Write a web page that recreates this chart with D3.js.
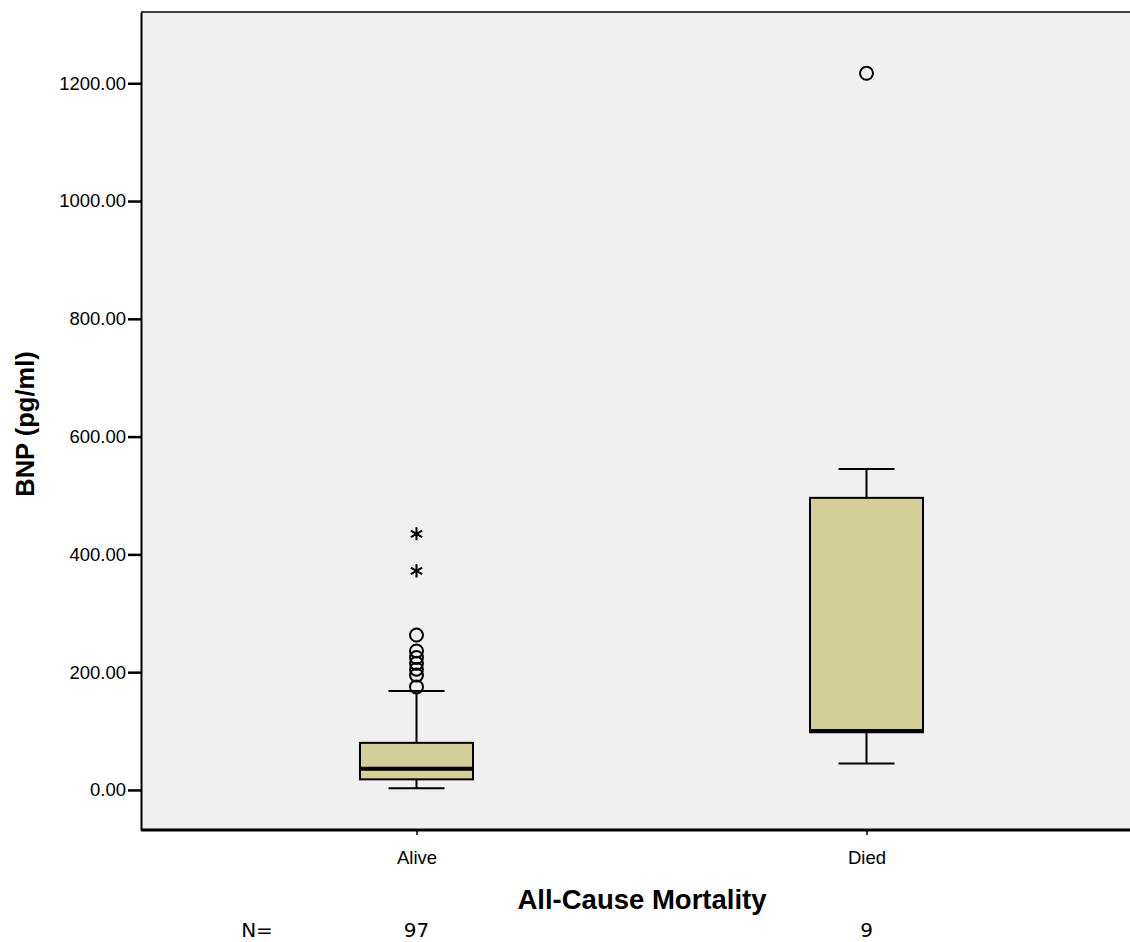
<!DOCTYPE html>
<html>
<head>
<meta charset="utf-8">
<script src="https://cdn.jsdelivr.net/npm/d3@7"></script>
<style>
  body { margin: 0; background: #fff; }
  svg { display: block; }
</style>
</head>
<body>
<svg id="chart" width="1130" height="942"></svg>
<script>
// Summary statistics of BNP by all-cause mortality group
const categories = ["Alive", "Died"];
const counts = [97, 9];
const whiskerLow = [3, 45];
const q1 = [18, 98];
const median = [36, 100];
const q3 = [80, 496];
const whiskerHigh = [168, 545];
// mild outliers (circles) and extreme values (asterisks)
const outliers = [[175, 195, 205, 215, 225, 236, 263], [1217]];
const extremes = [[372, 435], []];
const yTicks = [0, 200, 400, 600, 800, 1000, 1200];

const svg = d3.select("#chart");
const plot = { left: 141, top: 12, right: 1130, bottom: 830 };

const y = d3.scaleLinear().domain([-68, 1321]).range([plot.bottom, plot.top]);
const x = d3.scalePoint().domain(categories).range([416.5, 866.5]);
const boxW = 113, capW = 56;

// plot background
svg.append("rect")
  .attr("x", plot.left).attr("y", plot.top)
  .attr("width", plot.right - plot.left).attr("height", plot.bottom - plot.top)
  .attr("fill", "#f0f0f0");
svg.append("line")
  .attr("x1", plot.left).attr("x2", plot.right)
  .attr("y1", plot.top).attr("y2", plot.top)
  .attr("stroke", "#000").attr("stroke-width", 1.5);

// y axis
const yAxis = svg.append("g")
  .attr("transform", `translate(${plot.left},0)`)
  .call(d3.axisLeft(y).tickValues(yTicks).tickFormat(d3.format(".2f")).tickSizeInner(13).tickSizeOuter(0).tickPadding(2));
yAxis.select(".domain").attr("stroke-width", 2);
yAxis.selectAll(".tick line").attr("stroke-width", 2.5);
yAxis.selectAll("text").attr("font-family", "Liberation Sans, Arial, sans-serif").attr("font-size", 18.5).attr("fill", "#000");

// x axis
const xAxis = svg.append("g")
  .attr("transform", `translate(0,${plot.bottom})`)
  .call(d3.axisBottom(x).tickSizeInner(5).tickSizeOuter(0).tickPadding(16));
xAxis.select(".domain").attr("d", `M${plot.left},0H${plot.right}`).attr("stroke-width", 3);
xAxis.selectAll(".tick line").attr("stroke-width", 1.5);
xAxis.selectAll("text").attr("font-family", "Liberation Sans, Arial, sans-serif").attr("font-size", 18.5).attr("fill", "#000");

// boxes
const groups = svg.append("g").selectAll("g").data(categories).join("g");
groups.each(function(c, i) {
  const g = d3.select(this);
  const cx = x(c);
  g.append("line").attr("x1", cx).attr("x2", cx).attr("y1", y(whiskerLow[i])).attr("y2", y(q1[i]))
    .attr("stroke", "#000").attr("stroke-width", 2);
  g.append("line").attr("x1", cx).attr("x2", cx).attr("y1", y(q3[i])).attr("y2", y(whiskerHigh[i]))
    .attr("stroke", "#000").attr("stroke-width", 2);
  [whiskerLow[i], whiskerHigh[i]].forEach(v => {
    g.append("line").attr("x1", cx - capW / 2).attr("x2", cx + capW / 2).attr("y1", y(v)).attr("y2", y(v))
      .attr("stroke", "#000").attr("stroke-width", 2);
  });
  g.append("rect")
    .attr("x", cx - boxW / 2).attr("width", boxW)
    .attr("y", y(q3[i])).attr("height", y(q1[i]) - y(q3[i]))
    .attr("fill", "#d3cf99").attr("stroke", "#000").attr("stroke-width", 2);
  g.append("line").attr("x1", cx - boxW / 2).attr("x2", cx + boxW / 2).attr("y1", y(median[i])).attr("y2", y(median[i]))
    .attr("stroke", "#000").attr("stroke-width", 4);
  g.selectAll("circle.out").data(outliers[i]).join("circle")
    .attr("class", "out").attr("cx", cx).attr("cy", d => y(d)).attr("r", 6.5)
    .attr("fill", "none").attr("stroke", "#000").attr("stroke-width", 2);
  g.selectAll("path.ext").data(extremes[i]).join("path")
    .attr("class", "ext")
    .attr("transform", d => `translate(${cx},${y(d)})`)
    .attr("d", d3.symbol(d3.symbolAsterisk, 120))
    .attr("fill", "none").attr("stroke", "#000").attr("stroke-width", 2);
});

// axis titles
svg.append("text")
  .attr("transform", `translate(34,${(350 + 498) / 2}) rotate(-90)`)
  .attr("text-anchor", "middle")
  .attr("font-family", "Liberation Sans, Arial, sans-serif").attr("font-weight", "bold").attr("font-size", 25.5)
  .text("BNP (pg/ml)");
svg.append("text")
  .attr("x", 642).attr("y", 909)
  .attr("text-anchor", "middle")
  .attr("font-family", "Liberation Sans, Arial, sans-serif").attr("font-weight", "bold").attr("font-size", 27.5)
  .text("All-Cause Mortality");

// group sizes
svg.append("text")
  .attr("x", 257).attr("y", 937).attr("text-anchor", "middle")
  .attr("font-family", "DejaVu Sans, sans-serif").attr("font-size", 20)
  .text("N=");
svg.append("g").selectAll("text").data(categories).join("text")
  .attr("x", d => x(d)).attr("y", 937).attr("text-anchor", "middle")
  .attr("font-family", "DejaVu Sans, sans-serif").attr("font-size", 20)
  .text((d, i) => counts[i]);
</script>
</body>
</html>
